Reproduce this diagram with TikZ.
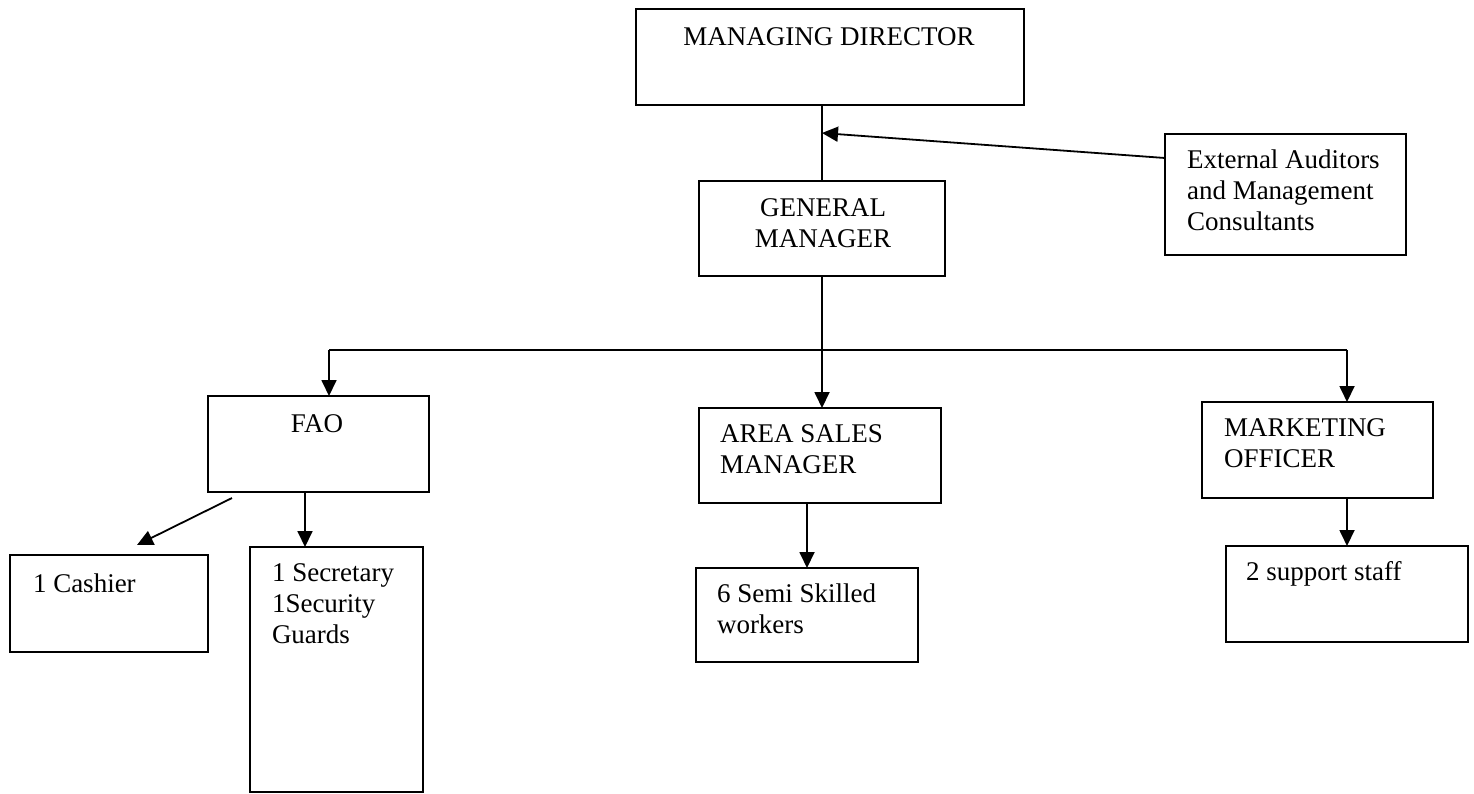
\documentclass[tikz,border=0pt]{standalone}
\usepackage{fontspec}
\setmainfont{Liberation Serif}
\usetikzlibrary{arrows.meta}
\begin{document}
\begin{tikzpicture}[x=1pt,y=-1pt,
  box/.style={draw=black, line width=1.8pt, rectangle, inner sep=0pt, outer sep=0pt, anchor=north west},
  txt/.style={inner sep=0pt, outer sep=0pt, font=\fontsize{27}{31}\selectfont, align=left},
  conn/.style={draw=black, line width=1.8pt},
  arr/.style={conn, -{Triangle[width=15pt,length=16pt]}}]
\useasboundingbox[fill=white] (0,0) rectangle (1474,793);

% boxes (top-left corner, size)
\node[box, minimum width=388pt, minimum height=96pt]  (md)  at (636,9)   {};
\node[box, minimum width=246pt, minimum height=95pt]  (gm)  at (699,181) {};
\node[box, minimum width=241pt, minimum height=121pt] (ea)  at (1165,134) {};
\node[box, minimum width=221pt, minimum height=96pt]  (fao) at (208,396) {};
\node[box, minimum width=242pt, minimum height=95pt]  (asm) at (699,408) {};
\node[box, minimum width=231pt, minimum height=96pt]  (mo)  at (1202,402) {};
\node[box, minimum width=198pt, minimum height=97pt]  (cash) at (10,555) {};
\node[box, minimum width=173pt, minimum height=245pt] (sec) at (250,547) {};
\node[box, minimum width=222pt, minimum height=94pt]  (semi) at (696,568) {};
\node[box, minimum width=242pt, minimum height=96pt]  (supp) at (1226,546) {};

% texts (base anchor = baseline of the last line)
\node[txt, anchor=base] (mdt) at (829,45) {MANAGING DIRECTOR};
\node[txt, anchor=base, align=center] (gmt) at (823,247) {GENERAL\\MANAGER};
\node[txt, anchor=base west] (eat) at (1187,230) {External Auditors\\and Management\\Consultants};
\node[txt, anchor=base] (faot) at (317,432) {FAO};
\node[txt, anchor=base west] (asmt) at (720,473) {AREA SALES\\MANAGER};
\node[txt, anchor=base west] (mot) at (1224,467) {MARKETING\\OFFICER};
\node[txt, anchor=base west] (casht) at (33,592) {1 Cashier};
\node[txt, anchor=base west] (sect) at (272,643) {1 Secretary\\1Security\\Guards};
\node[txt, anchor=base west] (semit) at (717,633) {6 Semi Skilled\\workers};
\node[txt, anchor=base west] (suppt) at (1246,580) {2 support staff};

% junction points
\coordinate (mdj)  at (822,133);
\coordinate (busL) at (329,350);
\coordinate (busR) at (1347,350);

% connectors
\draw[conn] (gm.north) -- (gm.north |- md.south);
\draw[arr] ([yshift=-24pt]ea.north west) -- (mdj);
\draw[conn] (busL) -- (busR);
\draw[arr] (gm.south) -- (gm.south |- asm.north);
\draw[arr] (busL) -- (busL |- fao.north);
\draw[arr] (busR) -- (busR |- mo.north);
\draw[arr] ([xshift=-13.5pt]fao.south) -- ([xshift=-13.5pt]fao.south |- sec.north);
\draw[arr] ([xshift=24pt,yshift=-6pt]fao.south west) -- ([xshift=28pt,yshift=10pt]cash.north);
\draw[arr] (semi.north |- asm.south) -- (semi.north);
\draw[arr] (supp.north |- mo.south) -- (supp.north);
\end{tikzpicture}
\end{document}
